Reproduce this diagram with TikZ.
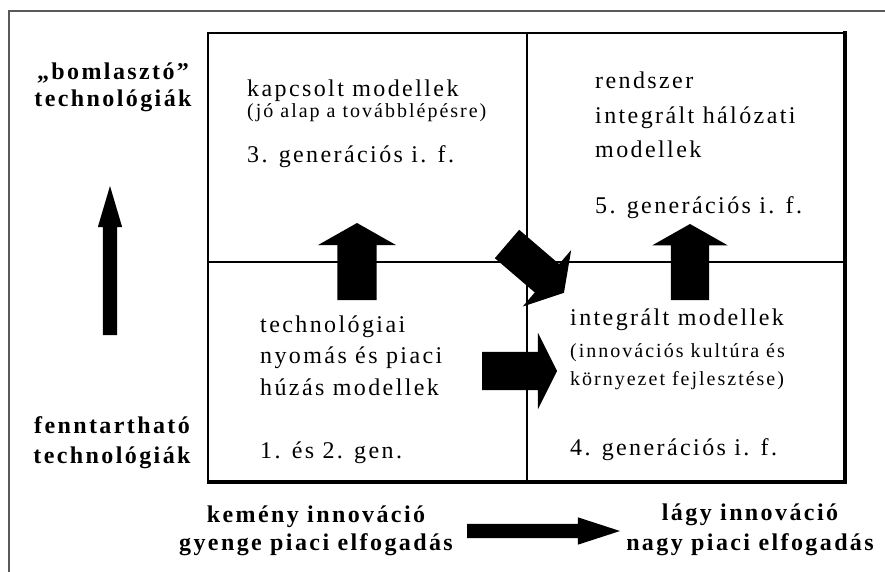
\documentclass[tikz,border=0pt]{standalone}
\usepackage{fontspec}
\setmainfont{Liberation Serif}[LetterSpace=10]
\usetikzlibrary{shapes.arrows}

\begin{document}
\begin{tikzpicture}[x=1pt,y=-1pt,
  txt/.style={anchor=base west, align=left, inner sep=0pt, font=\fontsize{24}{35}\selectfont},
  sub/.style={anchor=base west, align=left, inner sep=0pt, font=\fontsize{20}{28}\selectfont},
  lbl/.style={anchor=base, align=center, inner sep=0pt, font=\fontsize{24}{28}\selectfont\bfseries},
  blockarrow/.style={single arrow, fill=black, draw=none, inner xsep=0pt, outer sep=0pt, anchor=tail}]

\useasboundingbox (0,0) rectangle (885,572);

% frame
\draw[black!65, line width=2pt] (9,572) -- (9,11) -- (885,11);

% quadrants
\draw[line width=1.3pt] (208,482) -- (208,33) -- (845,33);
\draw[line width=3.5pt] (845,31.5) -- (845,482) -- (206.5,482);
\draw[line width=1.3pt] (527,33) -- (527,482);
\draw[line width=1.3pt] (208,262) -- (845,262);

% block arrows
\node[blockarrow, rotate=90, inner ysep=7pt, minimum height=149pt, minimum width=24pt,
  single arrow head extend=5pt, single arrow tip angle=33] (upL) at (110,335) {};
\node[blockarrow, rotate=90, inner ysep=19.5pt, minimum height=77pt, minimum width=78pt,
  single arrow head extend=19.5pt, single arrow tip angle=121] (upA) at (357,300) {};
\node[blockarrow, rotate=90, inner ysep=19pt, minimum height=76pt, minimum width=75pt,
  single arrow head extend=18.5pt, single arrow tip angle=121] (upB) at (690,300) {};
\node[blockarrow, inner ysep=19pt, minimum height=75pt, minimum width=76pt,
  single arrow head extend=19pt, single arrow tip angle=127] (rightC) at (482,371) {};
\node[blockarrow, rotate=-40.6, inner ysep=18.5pt, minimum height=75pt, minimum width=74pt,
  single arrow head extend=18.5pt, single arrow tip angle=118] (diag) at (507,244) {};
\node[blockarrow, inner ysep=7pt, minimum height=153pt, minimum width=27pt,
  single arrow head extend=6.5pt, single arrow tip angle=36] (rightB) at (467,531) {};

% quadrant texts (base = last line)
\node[txt] (kapcs) at (247,97) {kapcsolt modellek};
\node[sub] (alap) at (247,118) {(jó alap a továbblépésre)};
\node[txt] (gen3) at (247,163) {3. generációs i. f.};

\node[txt] (halo) at (595,158) {rendszer\\integrált hálózati\\modellek};
\node[txt] (gen5) at (595,213) {5. generációs i. f.};

\node[txt, font=\fontsize{24}{31.5}\selectfont] (nyomas) at (260,395) {technológiai\\nyomás és piaci\\húzás modellek};
\node[txt] (gen12) at (260,458) {1. és 2. gen.};

\node[txt] (integr) at (570,325) {integrált modellek};
\node[sub] (kult) at (570,385) {(innovációs kultúra és\\környezet fejlesztése)};
\node[txt] (gen4) at (570,455) {4. generációs i. f.};

% axis labels
\node[lbl, font=\fontsize{24}{27}\selectfont\bfseries] (bomla) at (113,107) {„bomlasztó”\\technológiák};
\node[lbl, font=\fontsize{24}{30}\selectfont\bfseries] (fennt) at (112,463) {fenntartható\\technológiák};
\node[lbl] (kemeny) at (316,550) {kemény innováció\\gyenge piaci elfogadás};
\node[lbl, font=\fontsize{24}{30}\selectfont\bfseries] (lagy) at (750,550) {lágy innováció\\nagy piaci elfogadás};

\end{tikzpicture}
\end{document}
